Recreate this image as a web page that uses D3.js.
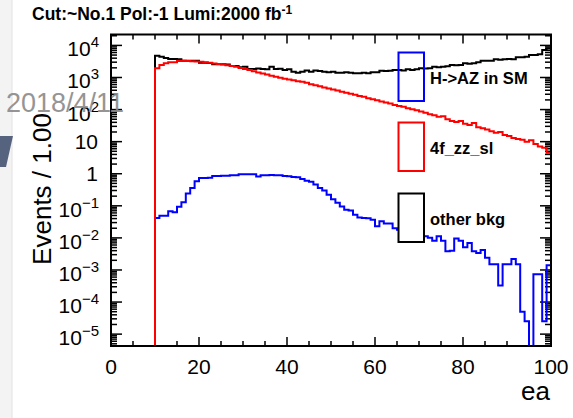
<!DOCTYPE html>
<html>
<head>
<meta charset="utf-8">
<script src="https://cdn.jsdelivr.net/npm/d3@7"></script>
<style>
  body { margin: 0; background: #fff; }
  text { font-family: "Liberation Sans", Arial, Helvetica, sans-serif; }
</style>
</head>
<body>
<div id="my_dataviz"></div>
<script>
// bins of width 1 from 0 to 100, contents
var binLow = d3.range(0, 100);

var blueVals = [0,0,0,0,0,0,0,0,0,0,
  0.042,0.049,0.049,0.068,0.063,0.093,0.13,0.24,0.36,0.58,
  0.73,0.73,0.75,0.85,0.85,0.86,0.87,0.9,0.9,0.96,
  0.97,0.96,0.96,0.82,0.9,0.9,0.91,0.9,0.89,0.85,
  0.84,0.79,0.78,0.68,0.6,0.56,0.46,0.36,0.3,0.22,
  0.16,0.125,0.095,0.076,0.072,0.053,0.043,0.042,0.041,0.037,
  0.023,0.033,0.028,0.028,0.02,0.018,0.017,0.015,0.014,0.013,
  0.012,0.0112,0.0101,0.0082,0.0112,0.0082,0.0038,0.004,0.0095,0.0082,
  0.0051,0.0069,0.0038,0.0034,0.0042,0.0024,0.0015,0.0015,0.00033,0.0015,
  0.0015,0.0022,0.0015,0.00005,0.000025,0,0.00073,0.00073,0.000025,0.0014];

var redVals = [0,0,0,0,0,0,0,0,0,0,
  1940,2460,2780,2980,3000,3270,3300,3270,3200,3150,
  3100,3000,2900,2750,2650,2550,2400,2300,2170,1990,
  1830,1700,1560,1440,1330,1230,1130,1060,980,920,
  870,820,770,740,680,620,570,530,490,450,
  420,390,360,335,310,290,265,250,225,210,
  195,180,165,155,140,130,122,110,102,95,
  87,80,72,66,60,62,50,44,41,44,
  36,33,38,28,26,24,21,19,20,16,
  15,13,12,11.5,10,11,8.5,7,6.5,4.5];

var blackVals = [0,0,0,0,0,0,0,0,0,0,
  4790,4450,4050,3770,3770,3700,3340,3340,3300,3340,
  2900,2900,2850,2580,2580,2600,2550,2290,2290,2080,
  2150,1840,1840,1900,1840,1800,2170,1830,1880,1720,
  1800,1520,1415,1520,1640,1520,1640,1580,1520,1450,
  1520,1415,1415,1450,1415,1360,1360,1400,1360,1450,
  1450,1635,1580,1635,1700,1720,1650,1800,1720,1800,
  1940,1900,1940,2180,2100,2180,2250,2460,2400,2460,
  2780,2700,2780,3000,3340,3340,3340,3700,3600,3700,
  3800,3700,4260,4260,4400,5020,5020,5300,7200,8100];

var xTicks = [0, 20, 40, 60, 80, 100];
var yExps = [-5, -4, -3, -2, -1, 0, 1, 2, 3, 4];
var legendNames = ["H->AZ in SM", "4f_zz_sl", "other bkg"];
var legendColors = ["#0000ff", "#ff0000", "#000000"];

// set the dimensions and margins of the graph
var margin = {top: 34.5, left: 111},
    width = 440,
    height = 311.5;

var svg0 = d3.select("#my_dataviz")
  .append("svg")
    .attr("width", 573)
    .attr("height", 418);

// slide background bits on the left
svg0.append("rect").attr("x", 0).attr("y", 0).attr("width", 12).attr("height", 418).attr("fill", "#f3f3f3");
svg0.append("line").attr("x1", 12).attr("x2", 12).attr("y1", 0).attr("y2", 418).attr("stroke", "#e2e2e2");
svg0.append("polygon").attr("points", "0,136 13,136 6,167 0,167").attr("fill", "#56637f");

var svg = svg0.append("g")
    .attr("transform", "translate(" + margin.left + "," + margin.top + ")");

var x = d3.scaleLinear().domain([0, 100]).range([0, width]);
var y = d3.scaleLog().domain([Math.pow(10, -5.37), Math.pow(10, 4.34)]).range([height, 0]);
function yv(v) { return v > 0 ? Math.max(0, Math.min(height, y(v))) : height; }

// title
svg0.append("text")
  .attr("x", 32).attr("y", 20)
  .attr("font-size", 17.5).attr("font-weight", "bold")
  .text("Cut:~No.1 Pol:-1 Lumi:2000 fb")
  .append("tspan").attr("dy", -6).attr("font-size", 12).text("-1");

// ticks (ROOT style, inside the frame, mirrored)
var xMinor = d3.range(0, 101, 5);
xMinor.forEach(function(t) {
  var len = t % 20 === 0 ? 9 : 5;
  svg.append("line").attr("x1", x(t)).attr("x2", x(t)).attr("y1", height).attr("y2", height - len).attr("stroke", "#000").attr("stroke-width", 1.5);
  svg.append("line").attr("x1", x(t)).attr("x2", x(t)).attr("y1", 0).attr("y2", len).attr("stroke", "#000").attr("stroke-width", 1.5);
});
var yMinor = [];
d3.range(-6, 5).forEach(function(e) {
  for (var m = 1; m < 10; m++) yMinor.push({v: m * Math.pow(10, e), major: m === 1});
});
yMinor.forEach(function(t) {
  var py = y(t.v);
  if (py < 0 || py > height) return;
  var len = t.major ? 11 : 6;
  svg.append("line").attr("x1", 0).attr("x2", len).attr("y1", py).attr("y2", py).attr("stroke", "#000").attr("stroke-width", 1.5);
  svg.append("line").attr("x1", width).attr("x2", width - len).attr("y1", py).attr("y2", py).attr("stroke", "#000").attr("stroke-width", 1.5);
});

// x tick labels
svg.selectAll(".xlab")
  .data(xTicks)
  .enter()
  .append("text")
    .attr("x", function(d) { return x(d); })
    .attr("y", 373.5 - margin.top)
    .attr("text-anchor", "middle")
    .attr("font-size", 21)
    .text(function(d) { return d; });

// y tick labels
yExps.forEach(function(e) {
  var py = y(Math.pow(10, e));
  if (e === 0 || e === 1) {
    svg.append("text").attr("x", -13).attr("y", py + 7.5).attr("text-anchor", "end").attr("font-size", 21)
      .text(e === 0 ? "1" : "10");
  } else {
    var t = svg.append("text").attr("x", -12).attr("y", py + 11).attr("text-anchor", "end").attr("font-size", 21);
    t.append("tspan").text("10");
    t.append("tspan").attr("dy", -9).attr("font-size", 15).text(e < 0 ? "\u2212" + (-e) : e);
  }
});

// axis titles
svg0.append("text")
  .attr("transform", "translate(51,189) rotate(-90)")
  .attr("text-anchor", "middle")
  .attr("font-size", 26)
  .text("Events / 1.00");
svg0.append("text")
  .attr("x", 550).attr("y", 400)
  .attr("text-anchor", "end")
  .attr("font-size", 26)
  .text("ea");

// histograms
svg.append("clipPath").attr("id", "clip")
  .append("rect").attr("x", 0).attr("y", 0).attr("width", width).attr("height", height);

var line = d3.line()
  .x(function(d) { return x(d[0]); })
  .y(function(d) { return yv(d[1]); });

function steps(vals) {
  var pts = [];
  binLow.forEach(function(b, i) {
    pts.push([b, vals[i]]);
    pts.push([b + 1, vals[i]]);
  });
  return pts;
}

[[blackVals, "#000000"], [blueVals, "#0000ff"], [redVals, "#ff0000"]].forEach(function(h) {
  svg.append("path")
    .attr("clip-path", "url(#clip)")
    .attr("d", line(steps(h[0])))
    .attr("fill", "none")
    .attr("stroke", h[1])
    .attr("stroke-width", 2);
});

// legend
var legY = [52.5, 122.5, 193.5];
legendNames.forEach(function(n, i) {
  svg0.append("rect")
    .attr("x", 398.5).attr("y", legY[i])
    .attr("width", 25.5).attr("height", 48.5)
    .attr("fill", i === 2 ? "#fff" : "none")
    .attr("stroke", legendColors[i])
    .attr("stroke-width", 2);
  svg0.append("text")
    .attr("x", 430).attr("y", legY[i] + 31)
    .attr("font-size", 16.5).attr("font-weight", "bold")
    .text(n);
});

// frame
svg.append("rect")
  .attr("x", 0).attr("y", 0).attr("width", width).attr("height", height)
  .attr("fill", "none").attr("stroke", "#000").attr("stroke-width", 2);

// watermark from the slide
svg0.append("text")
  .attr("x", 6).attr("y", 112)
  .attr("font-size", 27)
  .attr("fill", "#8a8a8a")
  .attr("opacity", 0.9)
  .text("2018/4/11");
</script>
</body>
</html>
